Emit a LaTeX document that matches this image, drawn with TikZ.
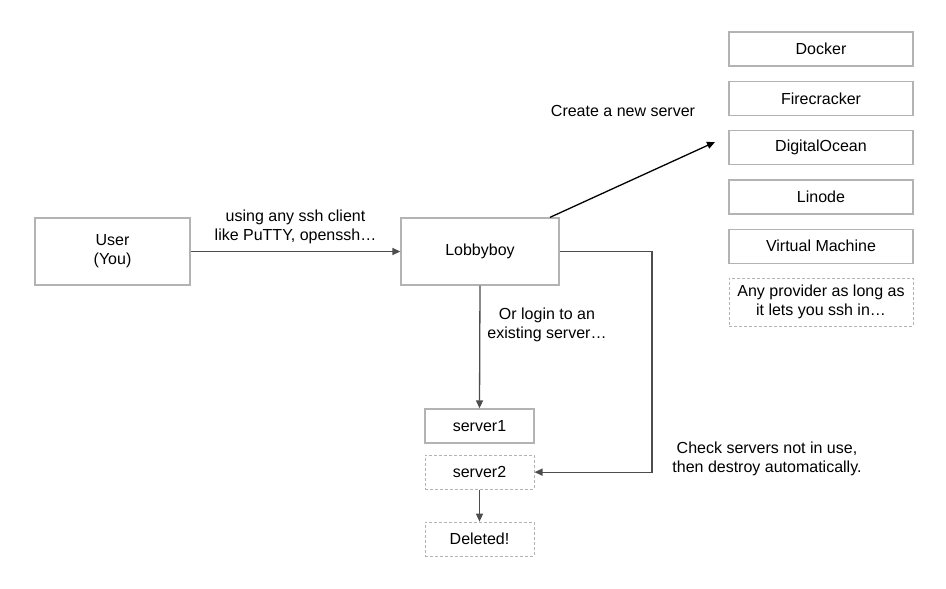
\documentclass[tikz,border=0pt]{standalone}
\usepackage{fontspec}
\setmainfont{Liberation Sans}
\usetikzlibrary{arrows.meta,positioning}

\definecolor{boxline}{HTML}{B3B3B3}
\definecolor{linkline}{HTML}{4D4D4D}

\tikzset{
  box/.style={draw=boxline,line width=1.3pt,minimum height=34pt,inner sep=0pt,align=center},
  gone/.style={box,dash pattern=on 3pt off 2pt,line width=1pt},
  link/.style={draw=linkline,line width=1.3pt,-{Triangle[length=8pt,width=7pt]}},
  tag/.style={align=center,inner sep=0pt}
}

\begin{document}
\begin{tikzpicture}[x=1pt,y=-1pt,font=\fontsize{16}{19}\selectfont]
  \useasboundingbox (0,0) rectangle (946,589);
  \node[box,minimum width=155pt,minimum height=67pt] (user) at (112.5,251.5) {User\\(You)};
  \node[box,minimum width=158pt,minimum height=67pt] (lobby) at (480,251.5) {Lobbyboy};

  \node[box,minimum width=184pt] (docker) at (821,49) {Docker};
  \node[box,minimum width=184pt,below=14pt of docker] (firecracker) {Firecracker};
  \node[box,minimum width=184pt,below=14pt of firecracker] (ocean) {DigitalOcean};
  \node[box,minimum width=184pt,below=14pt of ocean] (linode) {Linode};
  \node[box,minimum width=184pt,below=14pt of linode] (vm) {Virtual Machine};
  \node[gone,minimum width=184pt,minimum height=48pt,below=14pt of vm] (any) {Any provider as long as\\it lets you ssh in\dots};

  \node[box,minimum width=109pt] (server1) at (479.5,426) {server1};
  \node[gone,minimum width=109pt,below=11pt of server1] (server2) {server2};
  \node[gone,minimum width=109pt,below=32pt of server2] (deleted) {Deleted!};

  \coordinate (create) at (715,142);
  \coordinate (turn) at (652,251.5);

  \draw[link] (user) -- (lobby) node[tag,midway,above=7pt] (ssh) {using any ssh client\\like PuTTY, openssh\dots};
  \draw[link,draw=black] ([xshift=70pt]lobby.north) -- (create);
  \node[tag] (newserver) at (623,111) {Create a new server};
  \draw[link] (lobby.south) -- (server1.north);
  \node[tag] (login) at (547,325) {Or login to an\\existing server\dots};
  \draw[link] (lobby.east) -- (turn) |- (server2.east);
  \node[tag] (check) at (767,459) {Check servers not in use,\\then destroy automatically.};
  \draw[link] (server2) -- (deleted);
\end{tikzpicture}
\end{document}
